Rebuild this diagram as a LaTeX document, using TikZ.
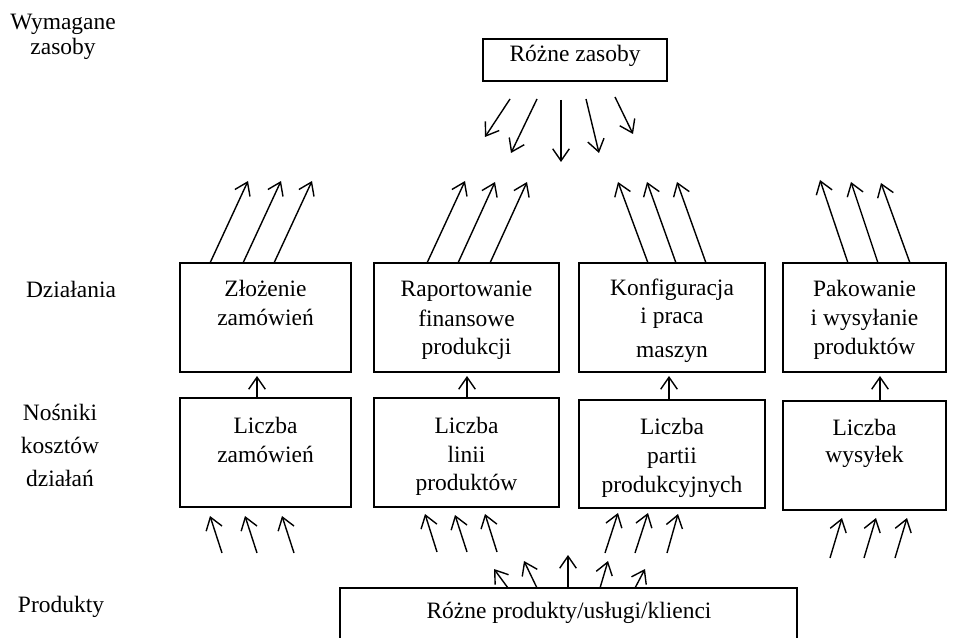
\documentclass[tikz,border=0pt]{standalone}
\usepackage{fontspec}
\setmainfont{Liberation Serif}
\usetikzlibrary{arrows.meta,fit}
\begin{document}
\begin{tikzpicture}[x=0.75pt,y=-0.75pt,
  box/.style={draw, line width=0.9pt, inner sep=0pt},
  txt/.style={anchor=base, inner sep=0pt, font=\fontsize{17.6pt}{21pt}\selectfont},
  arr/.style={line width=1.05pt, -{Straight Barb[length=9pt,width=12.5pt]}}]
\clip (0,0) rectangle (960,638);
\fill[white] (0,0) rectangle (960,638);
% boxes
\node[box, fit={(483,39) (667,81)}] (top) {};
\node[box, fit={(180,263) (351,372)}] (a1) {};
\node[box, fit={(374,263) (559,372)}] (a2) {};
\node[box, fit={(579,263) (765,372)}] (a3) {};
\node[box, fit={(783,263) (946,372)}] (a4) {};
\node[box, fit={(180,398) (351,507)}] (d1) {};
\node[box, fit={(374,398) (559,507)}] (d2) {};
\node[box, fit={(579,400) (765,508)}] (d3) {};
\node[box, fit={(783,401) (946,510)}] (d4) {};
\node[box, fit={(340,588) (797,680)}] (prod) {};
% texts
\node[txt] (ttop) at (575,62) {Różne zasoby};
\node[txt] (a1l1) at (265.5,296) {Złożenie};
\node[txt] (a1l2) at (265.5,325) {zamówień};
\node[txt] (a2l1) at (466.5,296) {Raportowanie};
\node[txt] (a2l2) at (466.5,326) {finansowe};
\node[txt] (a2l3) at (466.5,354) {produkcji};
\node[txt] (a3l1) at (672,295) {Konfiguracja};
\node[txt] (a3l2) at (672,323) {i praca};
\node[txt] (a3l3) at (672,357) {maszyn};
\node[txt] (a4l1) at (864.5,296) {Pakowanie};
\node[txt] (a4l2) at (864.5,325) {i wysyłanie};
\node[txt] (a4l3) at (864.5,354) {produktów};
\node[txt] (d1l1) at (265.5,433) {Liczba};
\node[txt] (d1l2) at (265.5,462) {zamówień};
\node[txt] (d2l1) at (466.5,433) {Liczba};
\node[txt] (d2l2) at (466.5,462) {linii};
\node[txt] (d2l3) at (466.5,490) {produktów};
\node[txt] (d3l1) at (672,434) {Liczba};
\node[txt] (d3l2) at (672,463) {partii};
\node[txt] (d3l3) at (672,492) {produkcyjnych};
\node[txt] (d4l1) at (864.5,435) {Liczba};
\node[txt] (d4l2) at (864.5,462) {wysyłek};
\node[txt] (tprod) at (569,618) {Różne produkty/usługi/klienci};
% left labels
\node[txt] (lw1) at (63,30) {Wymagane};
\node[txt] (lw2) at (63,55) {zasoby};
\node[txt] (ldz) at (71,297) {Działania};
\node[txt] (ln1) at (60,420) {Nośniki};
\node[txt] (ln2) at (60,453) {kosztów};
\node[txt] (ln3) at (60,486) {działań};
\node[txt] (lpr) at (61,612) {Produkty};
% top fan
\foreach \i/\sx/\sy/\ex/\ey in {1/510/99/485/137, 2/537/99/511/153, 3/561/100/561/162, 4/586/99/599/153, 5/615/97/633/134}{
  \coordinate (f\i s) at (\sx,\sy); \coordinate (f\i e) at (\ex,\ey);
  \draw[arr] (f\i s) -- (f\i e);
}
% arrows up from activities
\foreach \i/\sx/\sy/\ex/\ey in {
  1/210/263/248/181, 2/243/263/281/181, 3/274/263/312/181,
  4/427/263/465/181, 5/458/263/495/182, 6/490/263/527/182,
  7/648/263/618/182, 8/676/263/647/182, 9/706/263/677/182,
  10/848/263/820/180, 11/878/263/851/182, 12/910/263/881/183}{
  \coordinate (u\i s) at (\sx,\sy); \coordinate (u\i e) at (\ex,\ey);
  \draw[arr] (u\i s) -- (u\i e);
}
% between rows
\foreach \i/\x/\sy in {1/257/398, 2/467/398, 3/669/400, 4/880/401}{
  \coordinate (m\i s) at (\x,\sy); \coordinate (m\i e) at (\x,376);
  \draw[arr] (m\i s) -- (m\i e);
}
% into drivers from below
\foreach \i/\sx/\sy/\ex/\ey in {
  1/222/553/210/516, 2/257/553/245/516, 3/294/553/282/516,
  4/437/552/425/514, 5/467/552/455/515, 6/497/552/485/514,
  7/605/553/618/513, 8/635/553/648/513, 9/667/553/678/514,
  10/830/558/842/518, 11/864/558/876/518, 12/895/558/907/518}{
  \coordinate (b\i s) at (\sx,\sy); \coordinate (b\i e) at (\ex,\ey);
  \draw[arr] (b\i s) -- (b\i e);
}
% bottom fan
\foreach \i/\sx/\ex/\ey in {1/508/494/569, 2/537/524/561, 3/568/568/555, 4/600/608/561, 5/635/645/569}{
  \coordinate (p\i s) at (\sx,588); \coordinate (p\i e) at (\ex,\ey);
  \draw[arr] (p\i s) -- (p\i e);
}
\end{tikzpicture}
\end{document}
